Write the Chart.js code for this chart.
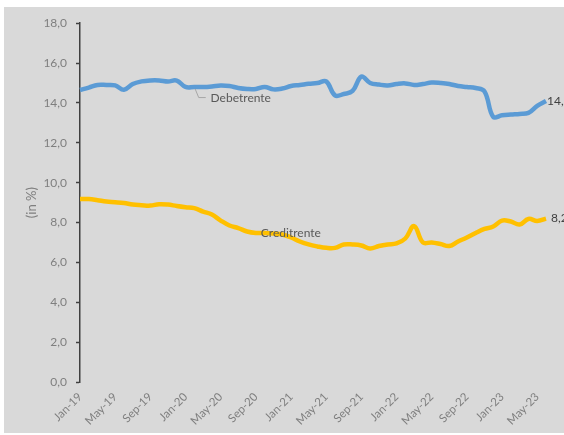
<!DOCTYPE html>
<html>
<head>
<meta charset="utf-8">
<script src="https://cdn.jsdelivr.net/npm/chart.js@4.4.1/dist/chart.umd.min.js"></script>
<style>
  html, body { margin: 0; padding: 0; background: #ffffff; }
  #wrap { position: absolute; left: 4px; top: 7px; width: 560px; height: 426px; background: #d9d9d9; }
</style>
</head>
<body>
<div id="wrap"><canvas id="rateChart" width="560" height="426"></canvas></div>
<script>
// months Jan-19 .. Jun-23
const labels = [
  'Jan-19', 'Feb-19', 'Mar-19', 'Apr-19', 'May-19', 'Jun-19', 'Jul-19', 'Aug-19', 'Sep-19', 'Oct-19', 'Nov-19', 'Dec-19',
  'Jan-20', 'Feb-20', 'Mar-20', 'Apr-20', 'May-20', 'Jun-20', 'Jul-20', 'Aug-20', 'Sep-20', 'Oct-20', 'Nov-20', 'Dec-20',
  'Jan-21', 'Feb-21', 'Mar-21', 'Apr-21', 'May-21', 'Jun-21', 'Jul-21', 'Aug-21', 'Sep-21', 'Oct-21', 'Nov-21', 'Dec-21',
  'Jan-22', 'Feb-22', 'Mar-22', 'Apr-22', 'May-22', 'Jun-22', 'Jul-22', 'Aug-22', 'Sep-22', 'Oct-22', 'Nov-22', 'Dec-22',
  'Jan-23', 'Feb-23', 'Mar-23', 'Apr-23', 'May-23', 'Jun-23'
];

const debetrente = [
  14.65, 14.77, 14.90, 14.90, 14.88, 14.66, 14.95, 15.08, 15.13, 15.13, 15.08, 15.12,
  14.80, 14.80, 14.80, 14.83, 14.88, 14.85, 14.75, 14.70, 14.70, 14.80, 14.68, 14.72,
  14.85, 14.90, 14.96, 15.00, 15.08, 14.38, 14.45, 14.60, 15.32, 15.00, 14.92, 14.88,
  14.95, 14.98, 14.90, 14.95, 15.02, 15.00, 14.95, 14.85, 14.80, 14.75, 14.58, 13.30,
  13.38, 13.42, 13.45, 13.50, 13.85, 14.10
];

const creditrente = [
  9.18, 9.18, 9.12, 9.05, 9.02, 8.98, 8.90, 8.87, 8.85, 8.92, 8.90, 8.83,
  8.77, 8.72, 8.55, 8.40, 8.10, 7.85, 7.72, 7.55, 7.48, 7.48, 7.45, 7.40,
  7.25, 7.05, 6.90, 6.80, 6.73, 6.73, 6.90, 6.90, 6.85, 6.70, 6.82, 6.90,
  6.95, 7.20, 7.82, 7.00, 7.00, 6.92, 6.82, 7.05, 7.25, 7.48, 7.68, 7.80,
  8.10, 8.05, 7.90, 8.18, 8.08, 8.20
];

const yTicks = [0, 2, 4, 6, 8, 10, 12, 14, 16, 18];

const fmt = v => v.toFixed(1).replace('.', ',');

// draws the series names and end values
const seriesLabels = {
  id: 'seriesLabels',
  afterDatasetsDraw(chart) {
    const ctx = chart.ctx;
    const xs = chart.scales.x;
    const ys = chart.scales.y;
    ctx.save();
    ctx.font = '12px Lato';
    ctx.textBaseline = 'middle';
    ctx.textAlign = 'left';

    // last value at line end
    const endGap = [1, 5];
    chart.data.datasets.forEach((ds, i) => {
      const meta = chart.getDatasetMeta(i);
      const pt = meta.data[meta.data.length - 1];
      ctx.fillStyle = '#404040';
      ctx.fillText(fmt(ds.data[ds.data.length - 1]), pt.x + endGap[i], pt.y);
    });

    // leader line for Debetrente
    ctx.strokeStyle = '#a6a6a6';
    ctx.lineWidth = 1;
    ctx.beginPath();
    ctx.moveTo(xs.getPixelForValue(13.1), ys.getPixelForValue(14.7));
    ctx.lineTo(xs.getPixelForValue(13.5), ys.getPixelForValue(14.27));
    ctx.lineTo(xs.getPixelForValue(14.3), ys.getPixelForValue(14.27));
    ctx.stroke();

    ctx.fillStyle = '#595959';
    ctx.fillText('Debetrente', xs.getPixelForValue(14.85), ys.getPixelForValue(14.25));
    ctx.fillText('Creditrente', xs.getPixelForValue(20.57), ys.getPixelForValue(7.45));
    ctx.restore();
  }
};

const ctx = document.getElementById('rateChart').getContext('2d');
new Chart(ctx, {
  type: 'line',
  data: {
    labels: labels,
    datasets: [{
      label: 'Debetrente',
      data: debetrente,
      borderColor: '#5b9bd5',
      borderWidth: 4.5,
      pointRadius: 0,
      tension: 0.4,
      fill: false
    }, {
      label: 'Creditrente',
      data: creditrente,
      borderColor: '#ffc000',
      borderWidth: 4.5,
      pointRadius: 0,
      tension: 0.4,
      fill: false
    }]
  },
  options: {
    responsive: false,
    devicePixelRatio: 1,
    animation: false,
    layout: { padding: { left: 0, top: 15, right: 18, bottom: 0 } },
    plugins: {
      legend: { display: false },
      tooltip: { enabled: false }
    },
    scales: {
      x: {
        offset: false,
        grid: { display: false, drawTicks: false },
        border: { display: false },
        ticks: {
          autoSkip: false,
          minRotation: 45,
          maxRotation: 45,
          padding: 8,
          color: '#7f7f7f',
          font: { family: 'Lato', size: 11.5 },
          callback: function(value, index) {
            return index % 4 === 0 ? labels[index] : '';
          }
        },
        afterFit: function(scale) { scale.height = 51; }
      },
      y: {
        min: 0,
        max: 18,
        afterBuildTicks: function(scale) {
          scale.ticks = yTicks.map(v => ({ value: v }));
        },
        grid: { display: true, drawOnChartArea: false, drawTicks: true, tickLength: 4, tickColor: '#404040', tickWidth: 1.5 },
        border: { display: true, color: '#404040', width: 1.5 },
        ticks: {
          padding: 9,
          color: '#7f7f7f',
          font: { family: 'Lato', size: 12 },
          callback: v => fmt(v)
        },
        title: {
          display: true,
          text: '(in %)',
          color: '#7f7f7f',
          font: { family: 'Lato', size: 13 },
          padding: { top: 20, bottom: 0 }
        },
        afterFit: function(scale) { scale.width = 76; }
      }
    }
  },
  plugins: [seriesLabels]
});
</script>
</body>
</html>
